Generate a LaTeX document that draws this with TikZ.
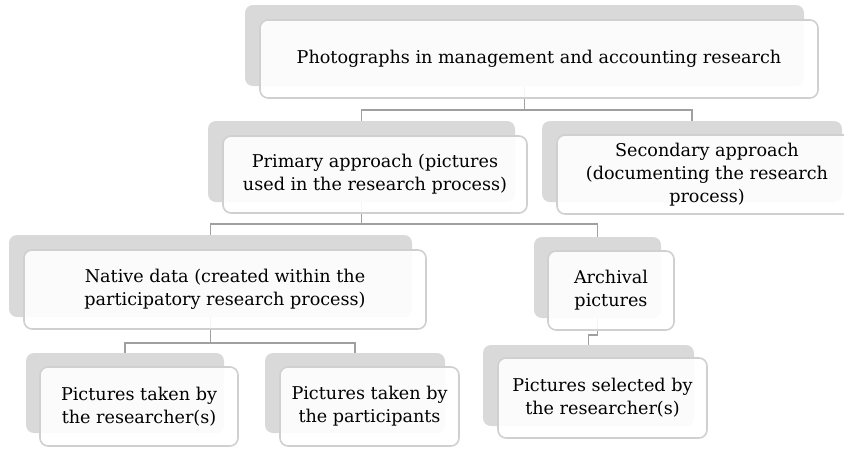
\documentclass[tikz,border=0pt]{standalone}
\usepackage{fontspec}
\setmainfont{DejaVu Serif}
\usepackage{xcolor}
\usepackage{tikz}
\usetikzlibrary{positioning, calc}

\definecolor{shadegray}{HTML}{D9D9D9}
\definecolor{rimgray}{HTML}{D0D0D0}
\definecolor{linkgray}{HTML}{A0A0A0}

\tikzset{
  backbox/.style={fill=shadegray, rounded corners=8pt, inner sep=0pt, outer sep=0pt},
  frontbox/.style={fill=white, fill opacity=0.9, text opacity=1, draw=rimgray, line width=1.6pt,
    rounded corners=8pt, inner sep=0pt, outer sep=0pt, align=center,
    font=\fontsize{17.6}{23}\selectfont},
  link/.style={draw=linkgray, line width=1.6pt}
}

\begin{document}
\begin{tikzpicture}[x=1pt, y=-1pt]
      \useasboundingbox (0,0) rectangle (844,448);

      % grey shadows
      \node[backbox, minimum width=559pt, minimum height=81pt] (topB) at (524.5,45.5) {};
      \node[backbox, minimum width=307pt, minimum height=81pt] (primB) at (361.5,161.5) {};
      \node[backbox, minimum width=300pt, minimum height=81pt] (secB) at (692,161.5) {};
      \node[backbox, minimum width=403pt, minimum height=82pt] (natB) at (210.5,276) {};
      \node[backbox, minimum width=127pt, minimum height=81pt] (archB) at (597.5,277.5) {};
      \node[backbox, minimum width=198pt, minimum height=80pt] (resB) at (125,393) {};
      \node[backbox, minimum width=180pt, minimum height=80pt] (partB) at (355,393) {};
      \node[backbox, minimum width=211pt, minimum height=81pt] (selB) at (588.5,385.5) {};

      % tree lines
      \draw[link] (topB.south) -- ++(0,24) -| (primB.north);
      \draw[link] (topB.south) ++(0,24) -| (secB.north);
      \draw[link] (primB.south) -- ++(0,22) -| (natB.north);
      \draw[link] (primB.south) ++(0,22) -| (archB.north);
      \draw[link] (natB.south) -- ++(0,26) -| (resB.north);
      \draw[link] (natB.south) ++(0,26) -| (partB.north);
      \draw[link] (archB.south) -- ++(0,17) -| (selB.north);

      % boxes with text
      \node[frontbox, minimum width=558pt, minimum height=78pt] (top) at (539,59)
        {Photographs in management and accounting research};
      \node[frontbox, minimum width=304pt, minimum height=77pt] (prim) at (375,174.5)
        {Primary approach (pictures\\used in the research process)};
      \node[frontbox, minimum width=300pt, minimum height=79pt] (sec) at (707,174.5)
        {Secondary approach\\(documenting the research\\process)};
      \node[frontbox, minimum width=402pt, minimum height=79pt] (nat) at (225,289.5)
        {Native data (created within the\\participatory research process)};
      \node[frontbox, minimum width=126pt, minimum height=79pt] (arch) at (611,290.5)
        {Archival\\pictures};
      \node[frontbox, minimum width=198pt, minimum height=79pt] (res) at (139,406.5)
        {Pictures taken by\\the researcher(s)};
      \node[frontbox, minimum width=179pt, minimum height=79pt] (part) at (369.5,406.5)
        {Pictures taken by\\the participants};
      \node[frontbox, minimum width=209pt, minimum height=80pt] (sel) at (602.5,398)
        {Pictures selected by\\the researcher(s)};
\end{tikzpicture}
\end{document}
